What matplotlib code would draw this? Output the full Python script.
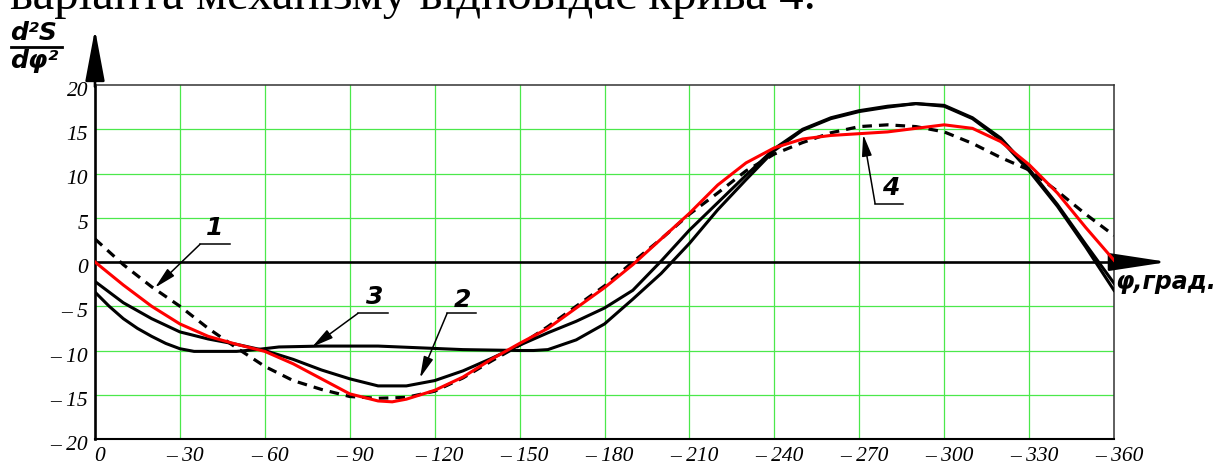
import matplotlib
matplotlib.use("Agg")
import matplotlib.pyplot as plt
import matplotlib.transforms as mtransforms

# криві (кут у градусах, d2S/dphi2)
phi_1 = [0, 10, 20, 30, 40, 50, 60, 70, 80, 90, 100, 110, 120, 130, 140, 150,
         160, 170, 180, 190, 200, 210, 220, 230, 240, 250, 260, 270, 280, 290,
         300, 310, 320, 330, 340, 350, 360]
s_1 = [2.6, -0.3, -2.8, -5.0, -7.5, -9.7, -11.8, -13.4, -14.4, -15.2, -15.4,
       -15.3, -14.6, -13.1, -11.2, -9.4, -7.3, -5.0, -2.7, 0.0, 2.6, 5.4, 7.8,
       10.3, 12.2, 13.5, 14.6, 15.3, 15.5, 15.3, 14.7, 13.4, 11.8, 10.4, 8.0,
       5.4, 3.0]

phi_2 = [0, 10, 20, 30, 40, 50, 60, 70, 80, 90, 100, 110, 120, 130, 140, 150,
         160, 170, 180, 190, 200, 210, 220, 230, 240, 250, 260, 270, 280, 290,
         300, 310, 320, 330, 340, 350, 360]
s_2 = [-2.2, -4.6, -6.4, -7.9, -8.7, -9.3, -10.0, -11.0, -12.2, -13.2, -14.0,
       -14.0, -13.4, -12.3, -10.9, -9.4, -8.0, -6.7, -5.2, -3.2, 0.1, 3.6, 6.7,
       9.8, 12.8, 15.0, 16.3, 17.1, 17.6, 17.9, 17.7, 16.3, 14.0, 10.5, 6.5,
       2.0, -2.4]

phi_3 = [0, 5, 10, 15, 20, 25, 30, 35, 50, 57, 65, 80, 100, 115, 130, 150, 155,
         160, 170, 180, 190, 200, 210, 220, 230, 240, 250, 260, 270, 280, 290,
         300, 310, 320, 330, 340, 350, 360]
s_3 = [-3.4, -5.0, -6.4, -7.5, -8.4, -9.2, -9.8, -10.1, -10.1, -9.9, -9.6,
       -9.5, -9.5, -9.7, -9.9, -10.0, -10.0, -9.9, -8.8, -7.0, -4.2, -1.3, 2.1,
       5.9, 9.3, 12.6, 14.9, 16.2, 17.0, 17.5, 17.9, 17.6, 16.2, 13.8, 10.3,
       6.3, 1.7, -3.2]

phi_4 = [0, 10, 20, 30, 40, 50, 60, 70, 80, 90, 100, 105, 110, 120, 130, 140,
         150, 160, 170, 180, 190, 200, 210, 220, 230, 240, 250, 260, 270, 280,
         290, 300, 310, 320, 330, 340, 350, 360]
s_4 = [0.0, -2.6, -5.0, -7.0, -8.4, -9.3, -10.1, -11.5, -13.2, -14.9, -15.7,
       -15.8, -15.5, -14.5, -13.0, -11.0, -9.2, -7.5, -5.2, -2.9, -0.3, 2.6,
       5.5, 8.7, 11.2, 12.9, 13.9, 14.3, 14.5, 14.7, 15.1, 15.5, 15.1, 13.6,
       11.0, 7.8, 3.9, 0.2]

x_ticks = list(range(0, 361, 30))
x_labels = ['0'] + ['\u2013 %d' % v for v in x_ticks[1:]]
y_ticks = [-20, -15, -10, -5, 0, 5, 10, 15, 20]
y_labels = ['\u2013 %d' % -v if v < 0 else '%d' % v for v in y_ticks]

W, H = 1221, 466
fig = plt.figure(figsize=(W / 100, H / 100), dpi=100)
ax = fig.add_axes([95 / W, (H - 439) / H, (1114 - 95) / W, (439 - 85) / H])
ax.set_xlim(0, 360)
ax.set_ylim(-20, 20)

green = '#4be84b'
for v in x_ticks[1:-1]:
    ax.axvline(v, color=green, lw=0.9, zorder=1)
for v in y_ticks[1:-1]:
    if v != 0:
        ax.axhline(v, color=green, lw=0.9, zorder=1)

ax.plot(phi_3, s_3, color='black', lw=2.2, zorder=3)
ax.plot(phi_2, s_2, color='black', lw=2.2, zorder=3)
ax.plot(phi_1, s_1, color='black', lw=2.3, ls=(0, (3.0, 2.2)), zorder=4)
ax.plot(phi_4, s_4, color='#ff0000', lw=2.2, zorder=5)

# осі
ax.spines['left'].set_linewidth(1.9)
ax.spines['bottom'].set_linewidth(1.5)
for s in ['top', 'right']:
    ax.spines[s].set_linewidth(1.1)
    ax.spines[s].set_color('#333333')
ax.plot([0, 360], [0, 0], color='black', lw=1.9, zorder=2)

ax.annotate('', xy=(0, 26.3), xytext=(0, 19.8), annotation_clip=False,
            arrowprops=dict(arrowstyle='-|>,head_length=3.2,head_width=0.6',
                            mutation_scale=10, lw=1.9, color='black',
                            shrinkA=0, shrinkB=0))
ax.annotate('', xy=(379, 0), xytext=(359, 0), annotation_clip=False,
            arrowprops=dict(arrowstyle='-|>,head_length=3.6,head_width=0.55',
                            mutation_scale=10, lw=1.9, color='black',
                            shrinkA=0, shrinkB=0))

ax.set_xticks(x_ticks)
ax.set_xticklabels(x_labels)
ax.set_yticks(y_ticks)
ax.set_yticklabels(y_labels)
ax.tick_params(length=0)
ax.tick_params(axis='x', pad=6)
ax.tick_params(axis='y', pad=5)
for lab in ax.get_xticklabels() + ax.get_yticklabels():
    lab.set_fontfamily('Liberation Serif')
    lab.set_fontstyle('italic')
    lab.set_fontsize(15.5)
dx = mtransforms.ScaledTranslation(5 / 100, 0, fig.dpi_scale_trans)
for lab in ax.get_xticklabels():
    lab.set_transform(lab.get_transform() + dx)
dy = mtransforms.ScaledTranslation(0, -4 / 100, fig.dpi_scale_trans)
for lab in ax.get_yticklabels():
    lab.set_transform(lab.get_transform() + dy)

# позначки кривих
lbl = dict(fontfamily='DejaVu Sans', fontweight='bold', fontstyle='oblique',
           fontsize=18, ha='center', va='center')
arr = dict(arrowstyle='-|>,head_length=1.3,head_width=0.3', mutation_scale=10,
           lw=1.1, color='black', shrinkA=0, shrinkB=0)
marks = [('1', (21.2, -2.9), (37.1, 2.0), (47.7, 2.0), (42.4, 3.8)),
         ('3', (76.7, -9.6), (92.9, -5.8), (103.5, -5.8), (98.9, -4.0)),
         ('2', (114.8, -13.1), (124.4, -5.8), (134.6, -5.8), (130.0, -4.3)),
         ('4', (271.4, 14.4), (275.6, 6.6), (285.5, 6.6), (281.0, 8.4))]
for t, tip, start, end, pos in marks:
    ax.annotate('', xy=tip, xytext=start, arrowprops=arr, zorder=6)
    ax.plot([start[0], end[0]], [start[1], end[1]], color='black', lw=1.1, zorder=6)
    ax.text(pos[0], pos[1], t, zorder=6, **lbl)

ax.text(360.3, -0.9, '\u03c6,\u0433\u0440\u0430\u0434.', clip_on=False,
        fontfamily='DejaVu Sans', fontweight='bold', fontstyle='oblique',
        fontsize=17, ha='left', va='top')

# підпис осі ординат
yl = dict(fontfamily='DejaVu Sans', fontweight='bold', fontstyle='oblique',
          fontsize=18, ha='left')
fig.text(10 / W, 1 - 45 / H, 'd\u00b2S', va='bottom', **yl)
fig.text(10 / W, 1 - 49 / H, 'd\u03c6\u00b2', va='top', **yl)
fig.add_artist(plt.Line2D([11 / W, 62 / W], [1 - 47 / H, 1 - 47 / H],
                          color='black', lw=2.0))

# обрізаний рядок тексту над рисунком
top = fig.text(10 / W, 1 - 9 / H,
               '\u0432\u0430\u0440\u0456\u0430\u043d\u0442\u0430 '
               '\u043c\u0435\u0445\u0430\u043d\u0456\u0437\u043c\u0443 '
               '\u0432\u0456\u0434\u043f\u043e\u0432\u0456\u0434\u0430\u0454 '
               '\u043a\u0440\u0438\u0432\u0430 4.',
               fontfamily='Liberation Serif', fontsize=20, va='baseline', ha='left')
fig.canvas.draw()
w = top.get_window_extent().width
top.set_fontsize(20 * 808 / w)

fig.savefig('out.png', dpi=100)
